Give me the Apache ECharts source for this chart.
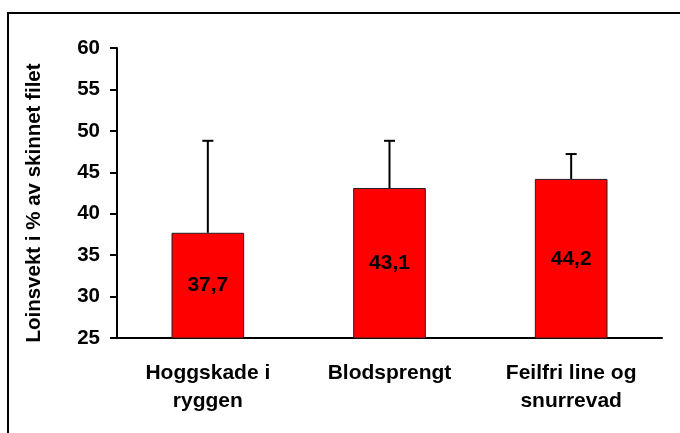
<!DOCTYPE html>
<html>
<head>
<meta charset="utf-8">
<script src="https://cdn.jsdelivr.net/npm/echarts@6/dist/echarts.min.js"></script>
<style>
  html, body { margin: 0; padding: 0; background: #fff; }
  #chart { width: 680px; height: 433px; }
</style>
</head>
<body>
<div id="chart"></div>
<script>
  // data
  const categories = ['Hoggskade i\nryggen', 'Blodsprengt', 'Feilfri line og\nsnurrevad'];
  const values = [37.7, 43.1, 44.2];
  const errPlus = [11.1, 5.7, 3.0];
  const yTicks = { min: 25, max: 60, step: 5 };

  const font = 'Liberation Sans, Arial, sans-serif';
  const errData = values.map((v, i) => [i, v, v + errPlus[i]]);

  const chart = echarts.init(document.getElementById('chart'));
  const option = {
    animation: false,
    backgroundColor: '#fff',
    grid: { left: 117, right: 18, top: 48, bottom: 95 },
    graphic: [{
      type: 'rect',
      shape: { x: 8, y: 13, width: 700, height: 460 },
      style: { fill: 'none', stroke: '#000', lineWidth: 2 },
      silent: true
    }],
    xAxis: {
      type: 'category',
      data: categories,
      axisLine: { lineStyle: { color: '#000', width: 2 } },
      axisTick: { length: 7, lineStyle: { color: '#000', width: 2 } },
      axisLabel: {
        color: '#000', fontFamily: font, fontWeight: 'bold', fontSize: 21,
        lineHeight: 28, margin: 21, interval: 0
      }
    },
    yAxis: {
      type: 'value',
      min: yTicks.min, max: yTicks.max, interval: yTicks.step,
      name: 'Loinsvekt i % av skinnet filet',
      nameLocation: 'middle',
      nameGap: 72,
      nameRotate: 90,
      nameTextStyle: {
        color: '#000', fontFamily: font, fontWeight: 'bold', fontSize: 20.5,
        padding: [0, 20, 0, 0]
      },
      axisLine: { show: true, lineStyle: { color: '#000', width: 2 } },
      axisTick: { show: true, length: 7, lineStyle: { color: '#000', width: 2 } },
      axisLabel: { color: '#000', fontFamily: font, fontWeight: 'bold', fontSize: 20.5, margin: 17 },
      splitLine: { show: false }
    },
    series: [
      {
        type: 'bar',
        data: values,
        barWidth: '40%',
        itemStyle: { color: '#ff0000', borderColor: '#222', borderWidth: 1 },
        label: {
          show: true, position: 'inside', color: '#000',
          fontFamily: font, fontWeight: 'bold', fontSize: 21,
          formatter: p => String(p.value).replace('.', ',')
        },
        z: 2
      },
      {
        type: 'custom',
        data: errData,
        z: 3,
        renderItem: (params, api) => {
          const base = api.coord([api.value(0), api.value(1)]);
          const top = api.coord([api.value(0), api.value(2)]);
          const half = 5.5;
          const style = { stroke: '#000', lineWidth: 2 };
          return {
            type: 'group',
            children: [
              { type: 'line', shape: { x1: base[0], y1: base[1], x2: top[0], y2: top[1] }, style },
              { type: 'line', shape: { x1: top[0] - half, y1: top[1], x2: top[0] + half, y2: top[1] }, style }
            ]
          };
        }
      }
    ]
  };
  chart.setOption(option);
</script>
</body>
</html>
